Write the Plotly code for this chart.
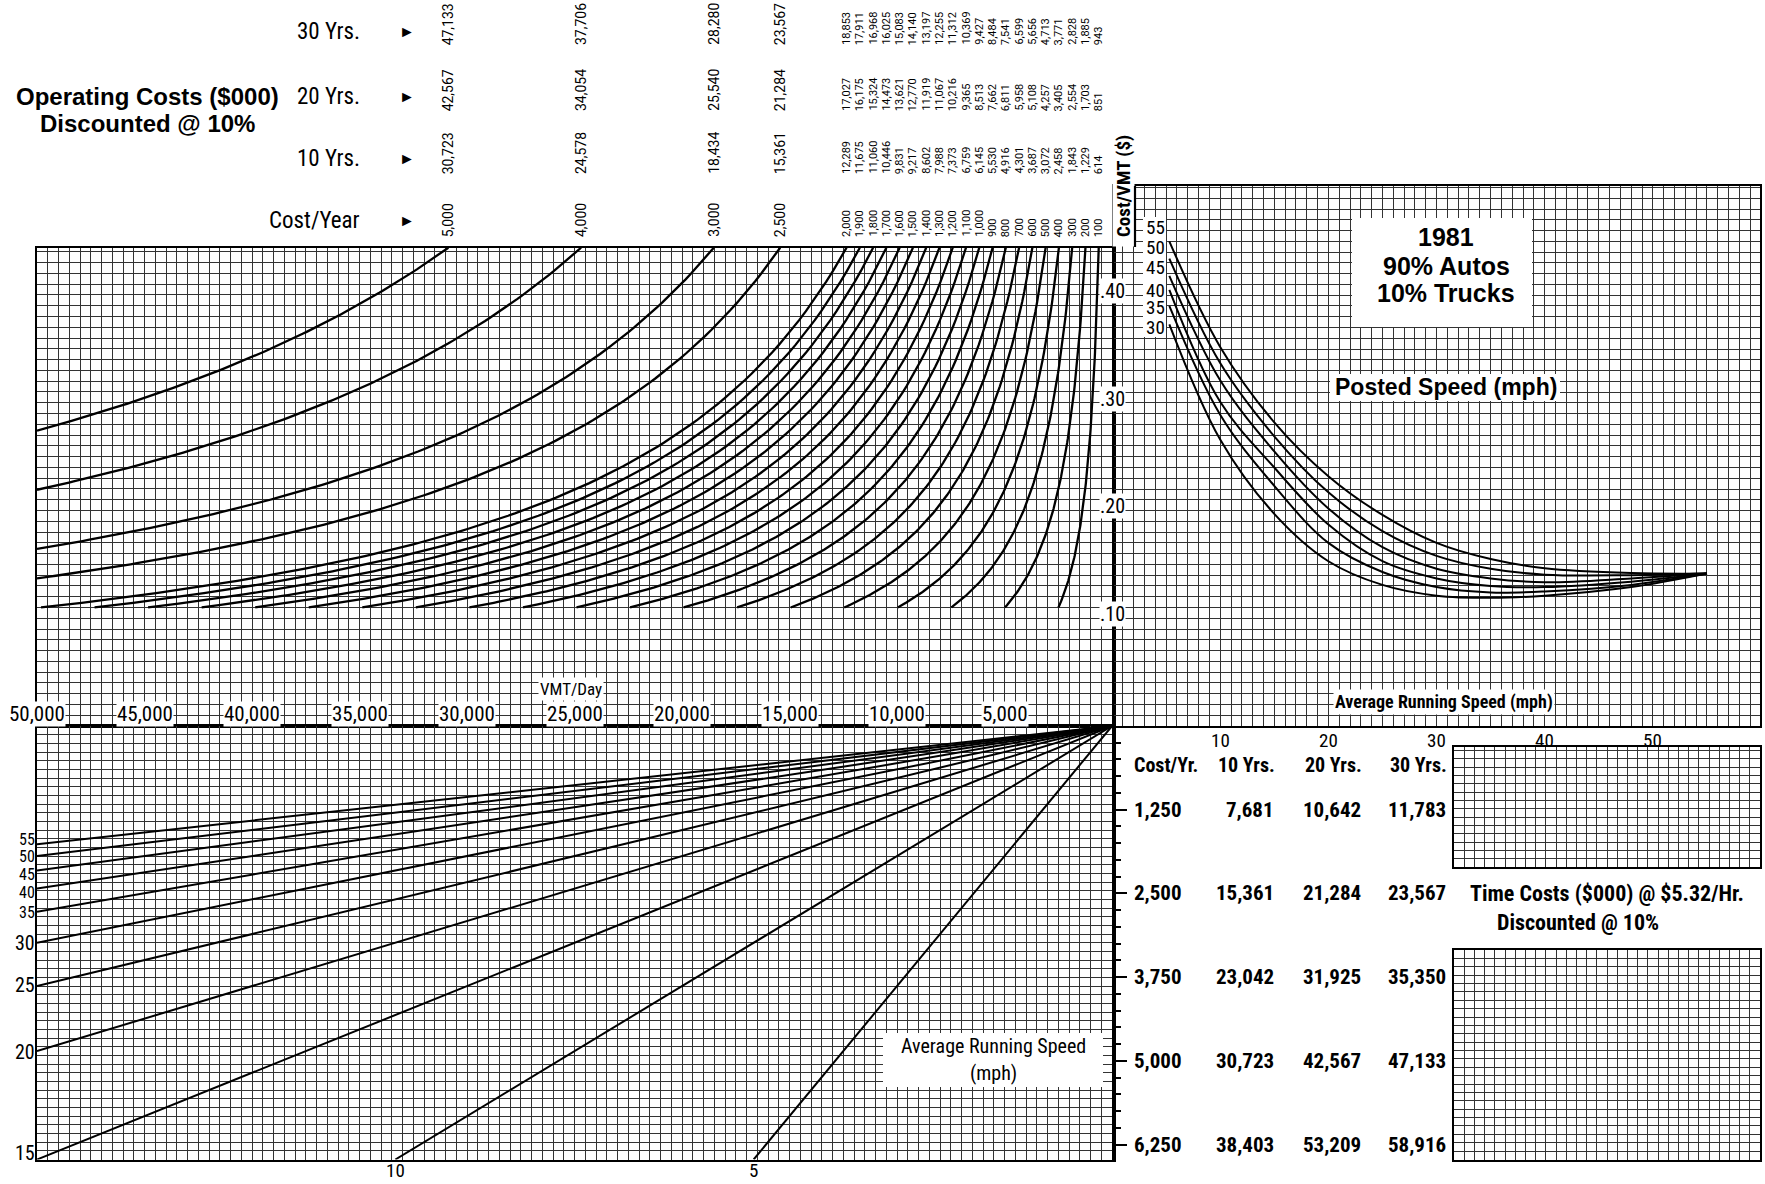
import plotly.graph_objects as go
import numpy as np

W, H = 1765, 1184

# ---------------- data ----------------
cost_per_year = [5000, 4000, 3000, 2500, 2000, 1900, 1800, 1700, 1600, 1500, 1400, 1300,
                 1200, 1100, 1000, 900, 800, 700, 600, 500, 400, 300, 200, 100]
op_cost_10yr = [30723, 24578, 18434, 15361, 12289, 11675, 11060, 10446, 9831, 9217, 8602, 7988,
                7373, 6759, 6145, 5530, 4916, 4301, 3687, 3072, 2458, 1843, 1229, 614]
op_cost_20yr = [42567, 34054, 25540, 21284, 17027, 16175, 15324, 14473, 13621, 12770, 11919, 11067,
                10216, 9365, 8513, 7662, 6811, 5958, 5108, 4257, 3405, 2554, 1703, 851]
op_cost_30yr = [47133, 37706, 28280, 23567, 18853, 17911, 16968, 16025, 15083, 14140, 13197, 12255,
                11312, 10369, 9427, 8484, 7541, 6599, 5656, 4713, 3771, 2828, 1885, 943]
days_per_year = 365
cost_curve_floor = 0.11      # $/VMT where the shorter cost/year curves stop
cost_top = 0.4438            # top of the cost/VMT grid
vmt_max = 50000

run_speed = [5.3, 10, 15, 20, 25, 30, 35, 40, 48, 55]
posted_30 = [0.373, 0.266, 0.197, 0.153, 0.131, 0.121, 0.119, 0.121, 0.129, 0.1415]
posted_35 = [0.390, 0.289, 0.223, 0.170, 0.143, 0.129, 0.124, 0.125, 0.131, 0.1415]
posted_40 = [0.405, 0.301, 0.240, 0.187, 0.153, 0.137, 0.130, 0.129, 0.134, 0.1415]
posted_45 = [0.418, 0.321, 0.255, 0.202, 0.166, 0.146, 0.137, 0.1335, 0.137, 0.1415]
posted_50 = [0.434, 0.337, 0.269, 0.217, 0.181, 0.158, 0.146, 0.1405, 0.140, 0.1415]
posted_55 = [0.450, 0.352, 0.282, 0.232, 0.196, 0.170, 0.155, 0.1465, 0.142, 0.1415]
posted_labels = ["55", "50", "45", "40", "35", "30"]

speed_lines = [55, 50, 45, 40, 35, 30, 25, 20, 15, 10, 5]
left_speed_labels = [55, 50, 45, 40, 35, 30, 25, 20, 15]
bottom_speed_labels = [10, 5]
hours_max = vmt_max / 15.0
time_value = 5.32  # $/hr

tc_cost_yr = [1250, 2500, 3750, 5000, 6250]
tc_10yr = [7681, 15361, 23042, 30723, 38403]
tc_20yr = [10642, 21284, 31925, 42567, 53209]
tc_30yr = [11783, 23567, 35350, 47133, 58916]

vmt_ticks = [50000, 45000, 40000, 35000, 30000, 25000, 20000, 15000, 10000, 5000]
cpv_ticks = [0.10, 0.20, 0.30, 0.40]
speed_ticks = [10, 20, 30, 40, 50]

# ---------------- helpers ----------------
def px(x):
    return x / W

def py(y):
    return 1 - y / H

NARROW = "Roboto Condensed, Liberation Sans Narrow, Roboto, sans-serif"
PLAIN = "Roboto, Liberation Sans, Arial, sans-serif"
SANS = "Liberation Sans, Arial, Helvetica, sans-serif"
GRID = "#333333"

fig = go.Figure()

# upper-left: cost per year curves
for cy in cost_per_year:
    v_top = cy * 1000 / (days_per_year * cost_top)
    v_end = min(vmt_max, cy * 1000 / (days_per_year * cost_curve_floor))
    v = np.linspace(v_top, v_end, 120)
    c = cy * 1000 / (days_per_year * v)
    fig.add_trace(go.Scatter(x=v, y=c, xaxis="x", yaxis="y", mode="lines",
                             line=dict(color="black", width=2.3), hoverinfo="skip"))

# upper-right: posted speed curves
for ser in [posted_30, posted_35, posted_40, posted_45, posted_50, posted_55]:
    fig.add_trace(go.Scatter(x=run_speed, y=ser, xaxis="x2", yaxis="y2", mode="lines",
                             line=dict(color="black", width=2.0, shape="spline", smoothing=1.0),
                             hoverinfo="skip"))

# lower-left: average running speed rays (hours = VMT / speed)
for s in speed_lines:
    if vmt_max / s <= hours_max + 1e-6:
        ev, eh = vmt_max, vmt_max / s
    else:
        ev, eh = hours_max * s, hours_max
    fig.add_trace(go.Scatter(x=[0, ev], y=[0, eh], xaxis="x3", yaxis="y3", mode="lines",
                             line=dict(color="black", width=2.0), hoverinfo="skip"))

# empty traces so the remaining axes are drawn
for xa, ya in [("x4", "y4"), ("x5", "y5"), ("x6", "y6")]:
    fig.add_trace(go.Scatter(x=[None], y=[None], xaxis=xa, yaxis=ya, mode="lines",
                             hoverinfo="skip"))


def grid_axis(domain, rng, dtick, anchor, lw=2.2):
    return dict(domain=domain, range=rng, dtick=dtick, tick0=0, showgrid=True,
                gridcolor=GRID, gridwidth=1.2, zeroline=False, showticklabels=False,
                ticks="", showline=True, mirror=True, linecolor="black", linewidth=lw,
                fixedrange=True, anchor=anchor)

tc_max = hours_max * days_per_year * time_value / 1000

layout = dict(
    width=W, height=H, margin=dict(l=0, r=0, t=0, b=0),
    paper_bgcolor="white", plot_bgcolor="white", showlegend=False,
    xaxis=grid_axis([px(37), px(1114)], [vmt_max, -93], 500, "y"),
    yaxis=grid_axis([py(726), py(247.7)], [0, cost_top], 0.01, "x"),
    xaxis2=grid_axis([px(1114), px(1760)], [0.185, 59.9], 1, "y2"),
    yaxis2=grid_axis([py(726), py(186)], [0, 0.5014], 0.01, "x2"),
    xaxis3=grid_axis([px(37), px(1114)], [vmt_max, -93], 500, "y3"),
    yaxis3=grid_axis([py(1159.5), py(726)], [hours_max, 0], hours_max / 50, "x3"),
    xaxis4=dict(domain=[px(1114), px(1760)], range=[0, 1], visible=False, anchor="y4",
                fixedrange=True),
    yaxis4=dict(domain=[py(1159.5), py(726)], range=[tc_max, 0], anchor="x4",
                showline=True, linecolor="black", linewidth=2.2, showgrid=False,
                zeroline=False, showticklabels=False, ticks="inside", ticklen=13,
                tickwidth=2, tickcolor="black", tickmode="array", tickvals=tc_cost_yr,
                minor=dict(ticks="inside", ticklen=7, tickwidth=1.5, tickcolor="black",
                           dtick=250, tick0=0, showgrid=False),
                fixedrange=True),
    xaxis5=grid_axis([px(1454), px(1760)], [0, 30], 1, "y5"),
    yaxis5=grid_axis([py(867), py(747)], [0, 14.4], 1, "x5"),
    xaxis6=grid_axis([px(1454), px(1760)], [0, 30], 1, "y6"),
    yaxis6=grid_axis([py(1159.5), py(950)], [0, 25], 1, "x6"),
)
fig.update_layout(**layout)

shapes = []
def white_rect(x0, y0, x1, y1):
    shapes.append(dict(type="rect", xref="paper", yref="paper", x0=px(x0), x1=px(x1),
                       y0=py(y1), y1=py(y0), fillcolor="white", line=dict(width=0),
                       layer="above"))

white_rect(1112.5, 183, 1134.5, 246.5)      # notch above the left grid
white_rect(1143, 217, 1166, 337)            # posted speed labels
white_rect(1352, 218, 1532, 327)            # 1981 box
white_rect(1330, 374, 1560, 401)            # Posted Speed box
white_rect(883, 1033, 1103, 1087)           # lower-left label box
shapes.append(dict(type="line", xref="paper", yref="paper", x0=px(1135), x1=px(1135),
                   y0=py(247), y1=py(186), line=dict(color="black", width=2.2),
                   layer="above"))
fig.update_layout(shapes=shapes)

ann = []
def text(x, y, s, size, xref="paper", yref="paper", xanchor="center", yanchor="middle",
         family=NARROW, bold=False, bg=None, angle=0, yshift=0, pad=1):
    d = dict(x=x, y=y, xref=xref, yref=yref, text=("<b>%s</b>" % s) if bold else s,
             showarrow=False, xanchor=xanchor, yanchor=yanchor, textangle=angle,
             font=dict(family=family, size=size, color="black"), yshift=yshift,
             borderpad=pad)
    if bg:
        d["bgcolor"] = bg
    ann.append(d)

# title block top-left
text(px(281), py(97), "Operating Costs ($000)", 24, xanchor="right", family=SANS, bold=True)
text(px(147), py(124), "Discounted @ 10%", 24, family=SANS, bold=True)
row_labels = [("30 Yrs.", 31), ("20 Yrs.", 97), ("10 Yrs.", 158), ("Cost/Year", 221)]
for lab, yy in row_labels:
    text(px(362), py(yy), lab, 23, xanchor="right")
    text(px(407), py(yy), "\u25ba", 16, family=SANS)

# rotated values above the cost curves
row_bottoms = [238, 175, 112, 46]
for i, cy in enumerate(cost_per_year):
    v_top = cy * 1000 / (days_per_year * cost_top)
    big = i < 4
    fs = 14 if big else 11
    vals = [cy, op_cost_10yr[i], op_cost_20yr[i], op_cost_30yr[i]]
    for val, yb in zip(vals, row_bottoms):
        text(v_top, py(yb), f"{val:,}", fs, xref="x", yanchor="bottom", angle=-90, pad=0,
             family=PLAIN)

# VMT axis labels
for v in vmt_ticks:
    text(v, py(714), f"{v:,}", 21, xref="x", bg="white", pad=0)
text(px(571), py(689), "VMT/Day", 17, bg="white")

# Cost/VMT labels
for c in cpv_ticks:
    text(px(1112), c, f"{c:.2f}"[1:], 20, yref="y", bg="white", yshift=4, pad=0)
text(px(1123), py(186), "Cost/VMT ($)", 19, angle=-90, bold=True)

# posted speed labels
for lab, yy in zip(posted_labels, [227, 248, 268, 290, 308, 327]):
    text(px(1155), py(yy), lab, 19, pad=0)

# upper-right block labels
text(px(1446), py(237), "1981", 25, family=SANS, bold=True)
text(px(1446), py(266), "90% Autos", 25, family=SANS, bold=True)
text(px(1446), py(293), "10% Trucks", 25, family=SANS, bold=True)
text(px(1446), py(387), "Posted Speed (mph)", 23, family=SANS, bold=True)
text(px(1444), py(702), "Average Running Speed (mph)", 18, bold=True, bg="white")
for s in speed_ticks:
    text(s, py(740), str(s), 19, xref="x2", pad=0)

# lower-left speed labels
left_label_y = [839, 856, 874, 892, 912, 943, 985, 1052, 1153]
for k, (s, yy) in enumerate(zip(left_speed_labels, left_label_y)):
    text(px(36), py(yy), str(s), 16 if k < 5 else 20, xanchor="right", pad=0)
for s in bottom_speed_labels:
    text(hours_max * s, py(1170), str(s), 19, xref="x3", pad=0)
text(px(993), py(1046), "Average Running Speed", 20)
text(px(993), py(1073), "(mph)", 20)

# time cost table
text(px(1132), py(765), "Cost/Yr.", 20, xanchor="left", bold=True)
for lab, xr in [("10 Yrs.", 1277), ("20 Yrs.", 1364), ("30 Yrs.", 1449)]:
    text(px(xr), py(765), lab, 20, xanchor="right", bold=True)
for i, cyr in enumerate(tc_cost_yr):
    text(px(1132), cyr, f"{cyr:,}", 21, xanchor="left", yref="y4", bold=True)
    text(px(1276), cyr, f"{tc_10yr[i]:,}", 21, xanchor="right", yref="y4", bold=True)
    text(px(1363), cyr, f"{tc_20yr[i]:,}", 21, xanchor="right", yref="y4", bold=True)
    text(px(1448), cyr, f"{tc_30yr[i]:,}", 21, xanchor="right", yref="y4", bold=True)
text(px(1607), py(893), "Time Costs ($000) @ $5.32/Hr.", 22, bold=True)
text(px(1578), py(922), "Discounted @ 10%", 22, bold=True)

fig.update_layout(annotations=ann)
fig.write_html("out.html", config={"displayModeBar": False},
               post_script="document.body.style.margin='0px';")
